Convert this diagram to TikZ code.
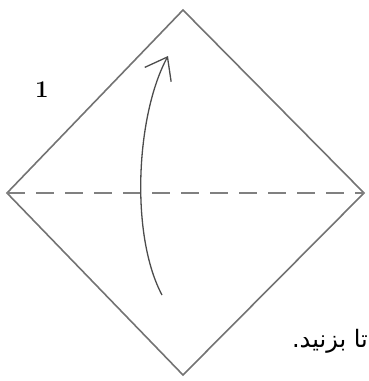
\documentclass[tikz,border=0pt]{standalone}
\usepackage{fontspec}
\usetikzlibrary{arrows.meta}
\TeXXeTstate=1
\newfontfamily\arabicfont[Script=Arabic]{DejaVu Sans}
\tikzset{
  edge/.style={draw=black!55, line width=1.6pt, line join=miter},
  crease/.style={draw=black!50, line width=1.8pt, dash pattern=on 18pt off 11pt},
  foldarrow/.style={draw=black!70, line width=1.3pt, -{Straight Barb[length=20pt,width=30pt,line width=1.3pt]}},
  lbl/.style={inner sep=0pt}
}
\begin{document}
\begin{tikzpicture}[x=1pt,y=-1pt]
\useasboundingbox (0,0) rectangle (369,381);
\coordinate (T) at (183,10);
\coordinate (L) at (7,193);
\coordinate (R) at (364,193);
\coordinate (B) at (183,375);
\coordinate (A0) at (162,295);
\coordinate (A1) at (168,56);
\draw[edge] (T) -- (R) -- (B) -- (L) -- cycle;
\draw[crease] (L) -- (R);
\draw[foldarrow] (A0) .. controls (130,235) and (136,115) .. (A1);
\node[lbl, font=\fontsize{24}{26}\selectfont] (n1) at (42,90) {\textbf{1}};
\node[lbl, anchor=east, font=\fontsize{24}{28}\selectfont] (txt) at (368,341) {\arabicfont\beginR تا بزنید.\endR};
\end{tikzpicture}
\end{document}
